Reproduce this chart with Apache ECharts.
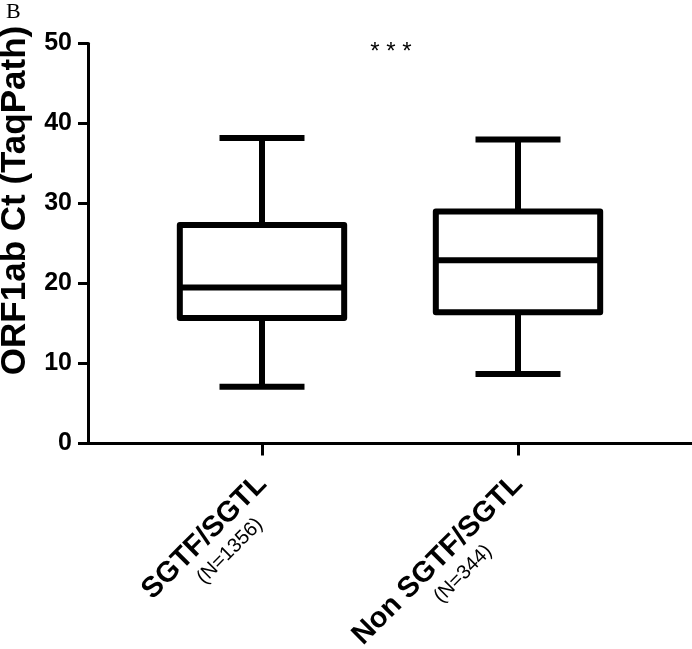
<!DOCTYPE html>
<html>
<head>
<meta charset="utf-8">
<script src="https://cdn.jsdelivr.net/npm/echarts@6/dist/echarts.min.js"></script>
<style>
html,body{margin:0;padding:0;background:#fff;}
#chart{width:692px;height:649px;}
</style>
</head>
<body>
<div id="chart"></div>
<script>
// ---- data ----
const categories = ['SGTF/SGTL', 'Non SGTF/SGTL'];
const sampleSizes = ['1356', '344'];
const whiskerLow = [7.1, 8.7];
const quartile1 = [15.7, 16.4];
const medians = [19.5, 22.9];
const quartile3 = [27.3, 29.0];
const whiskerHigh = [38.2, 38.0];
const yTicks = [0, 10, 20, 30, 40, 50];
const significance = '* * *';

const boxData = categories.map((c, i) => [i, whiskerLow[i], quartile1[i], medians[i], quartile3[i], whiskerHigh[i]]);

const chart = echarts.init(document.getElementById('chart'), null, {renderer: 'canvas'});
const LW = 6;
const FONT = 'Liberation Sans, Arial, sans-serif';

const option = {
  backgroundColor: '#ffffff',
  animation: false,
  grid: [
    {left: 88, right: 0, top: 43.5, bottom: 205.5, outerBoundsMode: 'none', containLabel: false},
    {left: 134, width: 512, top: 43.5, bottom: 205.5, outerBoundsMode: 'none', containLabel: false}
  ],
  xAxis: [
    {
      type: 'value', gridIndex: 0, min: 0, max: 1,
      axisLine: {show: true, lineStyle: {color: '#000', width: 3}},
      axisTick: {show: false}, axisLabel: {show: false}, splitLine: {show: false}
    },
    {
      type: 'category', gridIndex: 1, data: categories, boundaryGap: true,
      axisLine: {show: false},
      axisTick: {show: true, alignWithLabel: true, length: 12, lineStyle: {color: '#000', width: 3}},
      splitLine: {show: false},
      axisLabel: {
        rotate: 45, margin: 36, interval: 0,
        padding: [24, 0, 0, 0],
        formatter: (v, idx) => '{a|' + v + '}\n{b|(N=' + sampleSizes[idx] + ')}',
        rich: {
          a: {fontFamily: FONT, fontWeight: 'bold', fontSize: 29, color: '#000', align: 'center', lineHeight: 32},
          b: {fontFamily: FONT, fontSize: 20, color: '#000', align: 'center', lineHeight: 24, padding: [0, 0, 0, 16]}
        }
      }
    }
  ],
  yAxis: [
    {
      type: 'value', gridIndex: 0, min: 0, max: 50, interval: 10,
      axisLine: {show: true, lineStyle: {color: '#000', width: 3}},
      axisTick: {show: true, length: 10, lineStyle: {color: '#000', width: 3}},
      splitLine: {show: false},
      axisLabel: {
        margin: 16, fontFamily: FONT, fontWeight: 'bold', fontSize: 25, color: '#000',
        formatter: v => yTicks.includes(v) ? String(v) : ''
      },
      name: 'ORF1ab Ct (TaqPath)', nameLocation: 'middle', nameRotate: 90, nameGap: 48,
      nameTextStyle: {fontFamily: FONT, fontWeight: 'bold', fontSize: 35, color: '#000', padding: [6, 0, 0, 86]}
    },
    {
      type: 'value', gridIndex: 1, min: 0, max: 50, interval: 10, show: false
    }
  ],
  graphic: [
    {type: 'text', left: 6, top: 1, style: {text: 'B', fontFamily: 'Liberation Serif, Times New Roman, serif', fontSize: 22, fill: '#000'}},
    {type: 'text', x: 391, y: 40, style: {text: significance, textAlign: 'center', fontFamily: FONT, fontSize: 24, fill: '#000'}}
  ],
  series: [{
    type: 'custom',
    xAxisIndex: 1, yAxisIndex: 1,
    data: boxData,
    encode: {x: 0, y: [1, 2, 3, 4, 5]},
    renderItem: function (params, api) {
      const i = api.value(0);
      const lo = api.coord([i, api.value(1)]);
      const q1 = api.coord([i, api.value(2)]);
      const md = api.coord([i, api.value(3)]);
      const q3 = api.coord([i, api.value(4)]);
      const hi = api.coord([i, api.value(5)]);
      const band = api.size([1, 0])[0];
      const hb = band * 0.642 / 2;
      const hc = band * 0.332 / 2;
      const cx = lo[0];
      const st = {stroke: '#000', lineWidth: LW, fill: null};
      return {
        type: 'group',
        children: [
          {type: 'line', shape: {x1: cx, y1: q3[1], x2: cx, y2: hi[1]}, style: st},
          {type: 'line', shape: {x1: cx, y1: q1[1], x2: cx, y2: lo[1]}, style: st},
          {type: 'line', shape: {x1: cx - hc, y1: hi[1], x2: cx + hc, y2: hi[1]}, style: st},
          {type: 'line', shape: {x1: cx - hc, y1: lo[1], x2: cx + hc, y2: lo[1]}, style: st},
          {type: 'rect', shape: {x: cx - hb, y: q3[1], width: 2 * hb, height: q1[1] - q3[1]},
            style: {stroke: '#000', lineWidth: LW, fill: '#fff', lineJoin: 'round'}},
          {type: 'line', shape: {x1: cx - hb, y1: md[1], x2: cx + hb, y2: md[1]}, style: st}
        ]
      };
    }
  }]
};
chart.setOption(option);
</script>
</body>
</html>
